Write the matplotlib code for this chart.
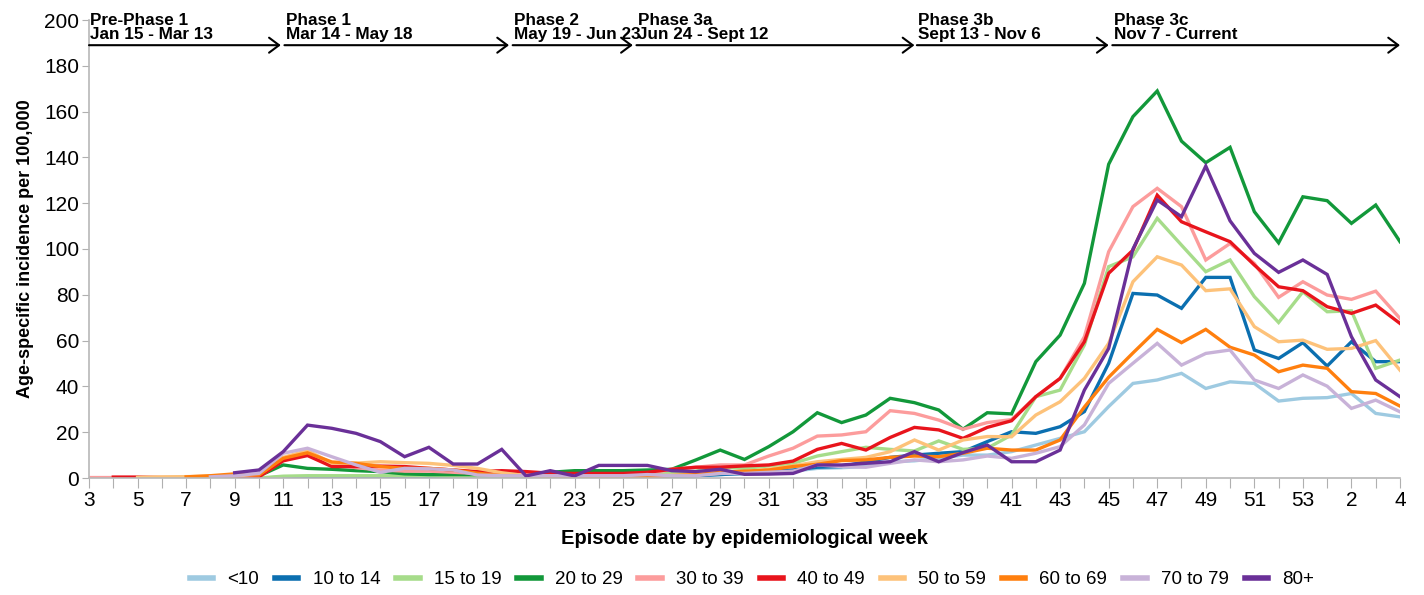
import numpy as np
import matplotlib
matplotlib.use("Agg")
import matplotlib.pyplot as plt

plt.rcParams['font.family'] = ['Liberation Sans', 'DejaVu Sans']

nan = float('nan')

# Epidemiological weeks (week 3 of year 1 through week 4 of year 2)
weeks = list(range(3, 54)) + [1, 2, 3, 4]

age_groups = ["<10", "10 to 14", "15 to 19", "20 to 29", "30 to 39",
              "40 to 49", "50 to 59", "60 to 69", "70 to 79", "80+"]

lt10 = [nan, nan, nan, nan, nan, nan, nan, 0, 0.3, 0.5, 0.5, 0.5, 0.5,
        0.5, 0.5, 0.5, 0.3, 0.3, 0.3, 0.3, 0.5, 0.5, 0.5,
        0.5, 0.8, 1, 1.5, 2, 2.5, 3,
        4.2, 4.5, 5, 7.1, 7.5, 8.6, 10, 10, 11.5,
        14.4, 17.3, 20.2, 31.2, 41.3, 42.8,
        45.7, 39.1, 42, 41.3, 33.6, 34.8, 35.1, 36.9, 28.2, 26.7]

a10_14 = [nan, nan, nan, nan, nan, nan, nan, 0, 0.3, 0.5, 0.5, 0.5, 0.5,
          0.5, 0.5, 0.5, 0.5, 0.5, 0.5, 0.5, 0.5, 0.5, 0.5,
          0.5, 0.8, 1, 1.5, 2, 3, 3.5,
          4.7, 5, 7.1, 9, 10, 10.8, 11.5, 15.9, 20.2,
          19.5, 22.4, 29, 50.1, 80.6, 79.9,
          74.1, 87.6, 87.6, 55.9, 52.2, 59.1, 48.9, 59.5, 50.8, 50.8]

a15_19 = [nan, nan, nan, nan, nan, nan, nan, 0, 0.8, 1, 1, 1, 1,
          1, 1, 0.8, 0.8, 0.8, 0.8, 0.8, 0.8, 1, 1,
          1.5, 2, 3, 4.7, 4.2, 5.3, 6.4,
          9.6, 11.5, 13.4, 12.5, 11.8, 16.2, 12.5, 13, 18.8,
          35.5, 38.4, 58.1, 92.3, 96.6, 113.4,
          101.7, 90.1, 95.2, 79.2, 67.9, 81.3, 72.6, 73, 47.9, 51.5]

a20_29 = [nan, nan, nan, nan, nan, nan, 0, 0.9, 5.7, 4.2, 3.8, 3.2, 2.8,
          1.8, 1.5, 1.5, 1.5, 1.5, 1.8, 2.5, 3.2, 3.2, 3.2,
          3.5, 3.8, 7.9, 12.2, 8.1, 13.7, 20.2,
          28.5, 24.2, 27.5, 34.8, 32.9, 29.7, 21.3, 28.5, 28,
          50.8, 62.4, 85, 137, 157.8, 169,
          147.1, 137.7, 144.4, 116.3, 102.7, 122.8, 121.1, 111.2, 119.2, 103.2]

a30_39 = [0.2, 0.2, 0.2, 0, 0, 0, 0, 0.5, 8, 11, 6, 4.5, 3.5,
          3, 3, 2.5, 2, 1.5, 1.5, 1.5, 1.5, 1.5, 1.5,
          2, 3.8, 4.7, 5.7, 5.7, 9.6, 13,
          18.3, 18.8, 20.2, 29.4, 28.2, 25.3, 21.3, 24.2, 25.5,
          35.5, 43.5, 61.7, 98.8, 118.5, 126.5,
          118.5, 95.2, 102.4, 93.7, 78.9, 85.7, 79.9, 78, 81.6, 69.7]

a40_49 = [nan, 0.4, 0.4, 0.2, 0.2, 0.2, 0.2, 0.5, 7.5, 9.8, 5, 5, 5.2,
          5, 4.2, 3.5, 2.8, 3.2, 2.8, 2.1, 2, 2, 2,
          2.5, 3.8, 4.7, 4.7, 5.3, 5.7, 7.4,
          12.5, 15.1, 12.2, 17.7, 22.1, 21, 17.3, 22.1, 25,
          35.5, 43.5, 59.5, 89.4, 99.5, 123.5,
          111.9, 107.5, 103.2, 93, 83.5, 81.8, 74.8, 71.9, 75.5, 67.5]

a50_59 = [nan, nan, 0.3, 0.5, 0.6, 0.8, 1, 1.5, 9, 12, 6.5, 6.5, 7.1,
          6.7, 6.4, 5.5, 4.2, 2.3, 1, 0.8, 0.8, 0.8, 0.8,
          1, 1.2, 1.5, 2, 2.5, 3.8, 5.3,
          7.1, 8.1, 9, 11.5, 16.6, 12.2, 16.6, 18.1, 18,
          27.5, 33.3, 43.5, 58.8, 85.7, 96.6,
          93, 81.8, 82.6, 66.1, 59.5, 60.2, 56.2, 56.6, 60, 47.1]

a60_69 = [nan, nan, nan, nan, 0.5, 1, 1.8, 1.3, 8.6, 11, 7, 6.4, 5,
          4.2, 4.2, 3.5, 2.1, 1, 1, 0.8, 0.5, 0.5, 0.5,
          0.5, 1, 1.5, 2.5, 3, 3.5, 5,
          6, 7.6, 7.9, 9, 9.6, 9.3, 10.8, 13, 12.2,
          12.2, 16.6, 31, 44, 54.6, 64.9,
          59.1, 64.9, 57.1, 53.7, 46.4, 49.3, 47.9, 37.7, 36.9, 31.4]

a70_79 = [nan, nan, nan, nan, nan, 0.5, 1, 2, 10.8, 13, 9.3, 5.7, 2.5,
          4.2, 4, 3.5, 1.3, 1, 1, 1, 1, 1, 1,
          1.5, 1, 1, 2, 2, 2.5, 3,
          5.7, 5, 4.7, 6.4, 7.9, 7.1, 7.9, 9.6, 8.6,
          10.8, 13.7, 23.2, 41.3, 50.1, 58.8,
          49.3, 54.4, 55.9, 42.8, 39.1, 45, 40.1, 30.4, 34, 28.9]

a80p = [nan, nan, nan, nan, nan, nan, 2.3, 3.5, 11.5, 23.1, 21.7, 19.5, 15.9,
        9.3, 13.4, 6.1, 6.1, 12.5, 0.9, 3.2, 0.9, 5.5, 5.5,
        5.5, 3.2, 2.8, 3.8, 1.6, 1.7, 2,
        5.7, 5.7, 6.4, 7.1, 11.5, 7.1, 11.1, 14.4, 7.1,
        7.1, 12.2, 38.4, 56.6, 100, 121.4,
        114.1, 136.2, 112.3, 98.1, 89.8, 95.2, 88.9, 61.7, 42.8, 35.5]

series = [lt10, a10_14, a15_19, a20_29, a30_39, a40_49, a50_59, a60_69, a70_79, a80p]
colors = ['#9ecae1', '#0b6fb0', '#a6dc8a', '#12983a', '#fc9c9c',
          '#e8141c', '#fdc27a', '#ff7f0e', '#c8b2d8', '#6a3098']

# Phases: label, date range, start week index, end week index
phase_names = ["Pre-Phase 1", "Phase 1", "Phase 2", "Phase 3a", "Phase 3b", "Phase 3c"]
phase_dates = ["Jan 15 - Mar 13", "Mar 14 - May 18", "May 19 - Jun 23",
               "Jun 24 - Sept 12", "Sept 13 - Nov 6", "Nov 7 - Current"]
phase_start = [0, 8.05, 17.45, 22.55, 34.1, 42.15]
phase_end = [7.9, 17.3, 22.4, 34.0, 42.0, 54]

fig = plt.figure(figsize=(14.24, 5.95), dpi=100)
ax = fig.add_axes([89/1424, 1-478/595, (1400-89)/1424, (478-20)/595])

x = np.arange(len(weeks))
for vals, c, lab in zip(series, colors, age_groups):
    ax.plot(x, vals, color=c, lw=2.4, label=lab, solid_joinstyle='miter')

ax.set_xlim(0, len(weeks)-1)
ax.set_ylim(0, 200)
ax.set_yticks(np.arange(0, 201, 20))
ax.set_xticks(x)
ax.set_xticklabels([str(w) if i % 2 == 0 else '' for i, w in enumerate(weeks)])
ax.tick_params(axis='x', length=7, color='#b0b0b0', labelsize=15, pad=2)
ax.tick_params(axis='y', length=5, color='#b0b0b0', labelsize=15, pad=2)
for s in ['top', 'right']:
    ax.spines[s].set_visible(False)
for s in ['left', 'bottom']:
    ax.spines[s].set_color('#b8b8b8')
    ax.spines[s].set_linewidth(1.2)

ax.set_ylabel("Age-specific incidence per 100,000", fontsize=13, fontweight='bold',
              labelpad=7)
ax.set_xlabel("Episode date by epidemiological week", fontsize=14.5, fontweight='bold',
              labelpad=14)

for name, dates, s, e in zip(phase_names, phase_dates, phase_start, phase_end):
    ax.annotate('', xy=(e, 189), xytext=(s, 189),
                arrowprops=dict(arrowstyle='->,head_length=0.6,head_width=0.45',
                                lw=1.5, color='black', shrinkA=0, shrinkB=0,
                                mutation_scale=12),
                annotation_clip=False)
    ax.text(s + 0.05, 190.3, name + "\n" + dates, fontsize=12.3, fontweight='bold',
            ha='left', va='bottom', linespacing=0.95, clip_on=False)

leg = fig.legend(loc='center', bbox_to_anchor=(0.528, 0.026), ncol=10, frameon=False,
                 handlelength=1.25, handletextpad=0.75, columnspacing=0.85,
                 prop={'size': 13.5})
for lh in leg.get_lines():
    lh.set_linewidth(4)

fig.savefig("out.png", dpi=100)
